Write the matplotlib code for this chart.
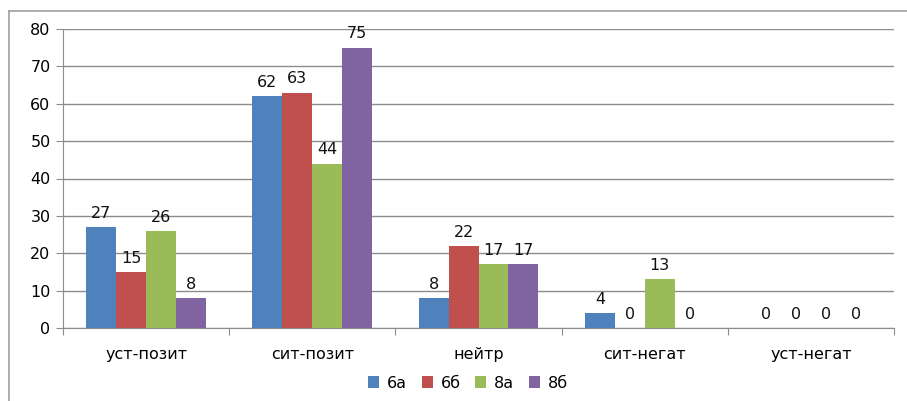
import numpy as np
import matplotlib.pyplot as plt
from matplotlib.lines import Line2D

categories = ['уст-позит', 'сит-позит', 'нейтр', 'сит-негат', 'уст-негат']
series = ['6а', '6б', '8а', '8б']
v6a = [27, 62, 8, 4, 0]
v6b = [15, 63, 22, 0, 0]
v8a = [26, 44, 17, 13, 0]
v8b = [8, 75, 17, 0, 0]
values = [v6a, v6b, v8a, v8b]
colors = ['#4F81BD', '#C0504D', '#9BBB59', '#8064A2']

plt.rcParams['font.family'] = 'DejaVu Sans'
fig = plt.figure(figsize=(9.07, 4.01), dpi=100)
ax = fig.add_axes([63/907, 1-328/401, (894-63)/907, (328-29)/401])

x = np.arange(len(categories))
w = 0.18
for i in range(len(series)):
    pos = x + (i-1.5)*w
    bars = ax.bar(pos, values[i], w, color=colors[i], label=series[i], zorder=3)
    for b, v in zip(bars, values[i]):
        ax.annotate(str(v), (b.get_x()+b.get_width()/2, v), xytext=(0, 4.5),
                    textcoords='offset points', ha='center', va='bottom',
                    fontsize=11.5, color='#111111')

ax.set_xlim(-0.5, len(categories)-0.5)
ax.set_ylim(0, 80)
ax.set_yticks(range(0, 81, 10))
ax.yaxis.grid(True, color='#8c8c8c', linewidth=1, zorder=0)
ax.set_xticks(np.arange(-0.5, len(categories)), minor=False)
ax.set_xticklabels([])
ax.set_xticks(x, minor=True)
ax.set_xticklabels(categories, minor=True)
ax.tick_params(axis='x', which='minor', length=0, pad=14, labelsize=11.5)
ax.tick_params(axis='x', which='major', length=5, color='#8c8c8c', direction='out')
ax.tick_params(axis='y', length=5, color='#8c8c8c', labelsize=11.5, pad=4)
for s in ['top', 'right']:
    ax.spines[s].set_visible(False)
for s in ['left', 'bottom']:
    ax.spines[s].set_color('#8c8c8c')

fig.legend(loc='center', bbox_to_anchor=(468/907, 1-383/401), ncol=4, frameon=False,
           fontsize=11.5, handlelength=0.7, handleheight=0.7, columnspacing=0.9,
           handletextpad=0.5)

# outer frame
fig.add_artist(Line2D([9/907, 1], [1-11/401, 1-11/401], color='#a0a0a0', lw=1.2, transform=fig.transFigure))
fig.add_artist(Line2D([9/907, 9/907], [0, 1-11/401], color='#a0a0a0', lw=1.2, transform=fig.transFigure))

fig.savefig('out.png', dpi=100)
